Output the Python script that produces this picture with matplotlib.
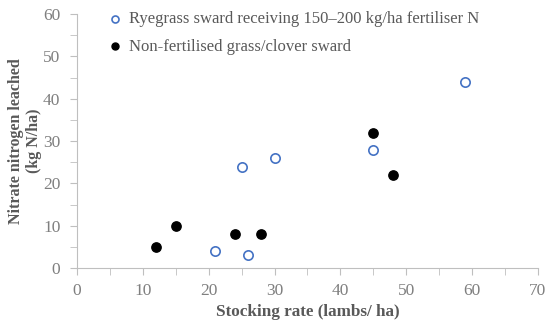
import matplotlib
matplotlib.use('Agg')
import matplotlib.pyplot as plt
from matplotlib.ticker import MultipleLocator

# Ryegrass sward with fertiliser N
rye_x = [21, 25, 26, 30, 45, 59]
rye_y = [4, 24, 3, 26, 28, 44]
# Non-fertilised grass/clover
clover_x = [12, 15, 24, 28, 45, 48]
clover_y = [5, 10, 8, 8, 32, 22]

rye_label = 'Ryegrass sward receiving 150\u2013200 kg/ha fertiliser N'
clover_label = 'Non-fertilised grass/clover sward'

plt.rcParams['font.family'] = ['Liberation Serif']

fig = plt.figure(figsize=(5.5, 3.27), dpi=100)
ax = fig.add_axes([0.14, 0.18, 0.838, 0.777])

ax.scatter(rye_x, rye_y, s=45, facecolors='white', edgecolors='#4472C4', linewidths=1.2,
           label=rye_label, zorder=3)
ax.scatter(clover_x, clover_y, s=45, color='black', label=clover_label, zorder=3)

ax.set_xlim(0, 70)
ax.set_ylim(0, 60)
ax.xaxis.set_major_locator(MultipleLocator(10))
ax.xaxis.set_minor_locator(MultipleLocator(5))
ax.yaxis.set_major_locator(MultipleLocator(10))
ax.yaxis.set_minor_locator(MultipleLocator(5))

for s in ['top', 'right']:
    ax.spines[s].set_visible(False)
for s in ['left', 'bottom']:
    ax.spines[s].set_color('#bfbfbf')
ax.tick_params(which='both', color='#bfbfbf', labelcolor='#7f7f7f', labelsize=12.5, direction='out')
ax.tick_params(which='major', length=5, pad=6)
ax.tick_params(axis='y', which='major', pad=7)
ax.tick_params(which='minor', length=5)

ax.set_xlabel('Stocking rate (lambs/ ha)', fontsize=12.3, fontweight='bold', color='#595959', labelpad=3)
ax.set_ylabel('Nitrate nitrogen leached\n(kg N/ha)', fontsize=11.5, fontweight='bold', color='#595959',
              labelpad=1, linespacing=1.15)

leg = ax.legend(loc='upper left', bbox_to_anchor=(0.04, 1.058), frameon=False, fontsize=12,
                handlelength=1.0, handletextpad=0.3, labelspacing=0.7, markerscale=0.75,
                borderpad=0.2)
for t in leg.get_texts():
    t.set_color('#595959')

fig.savefig('out.png', dpi=100)
